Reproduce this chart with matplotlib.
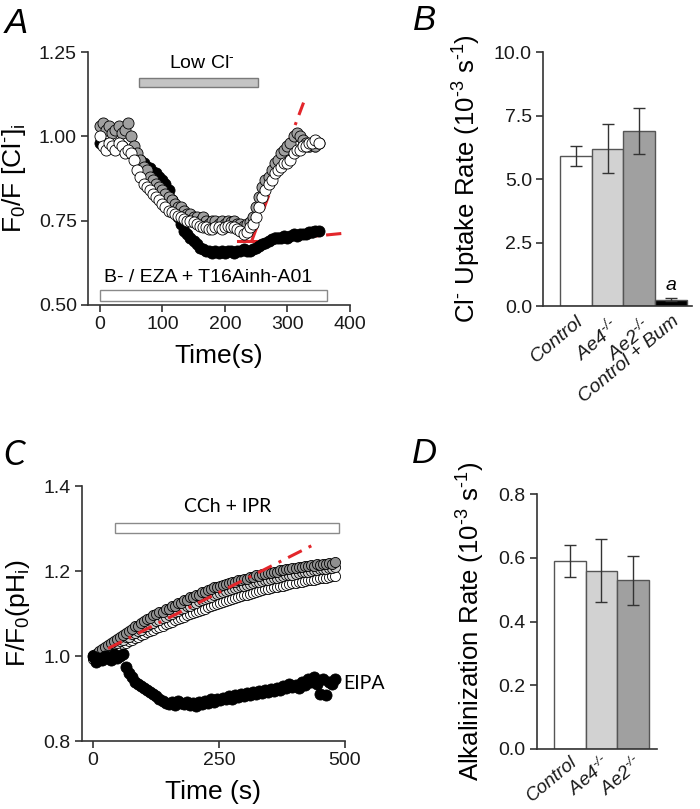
import numpy as np
import matplotlib
matplotlib.use("Agg")
import matplotlib.pyplot as plt
from matplotlib.patches import Rectangle

plt.rcParams["font.family"] = ["Liberation Sans", "DejaVu Sans"]
plt.rcParams["mathtext.default"] = "regular"

# ---- panel A: F0/F [Cl-]i traces, one point every 5 s ----
time_a = np.arange(0, 355, 5)
gray_a = [1.03, 1.04, 1.02, 1.03, 1.01, 1.02, 1.03, 1.01, 1.02, 1.04,
          1.00, 0.97, 0.95, 0.93, 0.91, 0.90, 0.88, 0.87, 0.86, 0.85,
          0.84, 0.83, 0.82, 0.81, 0.80, 0.79, 0.79, 0.78, 0.77, 0.77,
          0.76, 0.76, 0.75, 0.76, 0.75, 0.74, 0.75, 0.75, 0.74, 0.75,
          0.74, 0.75, 0.745, 0.75, 0.74, 0.74, 0.735, 0.74, 0.745, 0.76,
          0.79, 0.82, 0.85, 0.87, 0.88, 0.90, 0.92, 0.93, 0.95, 0.96,
          0.97, 0.98, 1.00, 1.01, 1.00, 0.99, 0.98, 0.97, 0.98, 0.97,
          0.98]
white_a = [1.00, 0.97, 0.96, 0.98, 0.97, 0.96, 0.98, 0.97, 0.95, 0.96,
           0.95, 0.93, 0.90, 0.88, 0.86, 0.85, 0.84, 0.83, 0.82, 0.81,
           0.80, 0.79, 0.78, 0.775, 0.77, 0.765, 0.76, 0.755, 0.75, 0.75,
           0.745, 0.74, 0.735, 0.73, 0.73, 0.725, 0.725, 0.73, 0.73, 0.725,
           0.73, 0.735, 0.73, 0.73, 0.725, 0.72, 0.71, 0.715, 0.73, 0.74,
           0.76, 0.79, 0.82, 0.84, 0.86, 0.87, 0.89, 0.90, 0.91, 0.92,
           0.92, 0.93, 0.95, 0.96, 0.96, 0.97, 0.97, 0.98, 0.98, 0.99,
           0.98]
black_a = [0.98, 0.98, 0.97, 0.975, 0.97, 0.97, 0.965, 0.97, 0.96, 0.955,
           0.95, 0.945, 0.935, 0.93, 0.92, 0.91, 0.905, 0.895, 0.89, 0.88,
           0.87, 0.86, 0.84, 0.81, 0.78, 0.76, 0.74, 0.72, 0.71, 0.70,
           0.69, 0.68, 0.67, 0.665, 0.66, 0.66, 0.655, 0.66, 0.655, 0.66,
           0.655, 0.66, 0.66, 0.655, 0.66, 0.66, 0.665, 0.66, 0.66, 0.665,
           0.67, 0.675, 0.68, 0.685, 0.69, 0.695, 0.70, 0.70, 0.70, 0.705,
           0.70, 0.705, 0.71, 0.705, 0.71, 0.71, 0.71, 0.715, 0.715, 0.72,
           0.72]
err_a = 0.015
fit_fast_t = [243, 326]
fit_fast_y = [0.69, 1.10]
fit_base_t = [221, 253]
fit_base_y = [0.69, 0.69]
fit_slow_t = [255, 398]
fit_slow_y = [0.688, 0.714]

# ---- panel B: Cl- uptake rate ----
groups_b = ["Control", "Ae4$^{\u2010/\u2010}$", "Ae2$^{\u2010/\u2010}$", "Control + Bum"]
rate_b = [5.9, 6.2, 6.9, 0.25]
sem_b = [0.4, 0.97, 0.9, 0.05]

# ---- panel C: F/F0 (pHi), one point every 6 s ----
time_c = np.arange(0, 486, 6)
gray_c = [1.002, 1.006, 1.012, 1.016, 1.022, 1.025, 1.032, 1.035, 1.041, 1.044,
          1.050, 1.054, 1.060, 1.064, 1.070, 1.072, 1.079, 1.082, 1.088, 1.090,
          1.096, 1.098, 1.103, 1.105, 1.110, 1.112, 1.117, 1.119, 1.124, 1.126,
          1.131, 1.132, 1.138, 1.139, 1.144, 1.145, 1.150, 1.151, 1.156, 1.157,
          1.162, 1.162, 1.166, 1.167, 1.170, 1.171, 1.174, 1.175, 1.178, 1.179,
          1.182, 1.182, 1.186, 1.186, 1.190, 1.189, 1.193, 1.193, 1.196, 1.196,
          1.199, 1.199, 1.202, 1.202, 1.205, 1.204, 1.207, 1.207, 1.210, 1.209,
          1.212, 1.211, 1.214, 1.213, 1.216, 1.215, 1.218, 1.217, 1.220, 1.218,
          1.221]
light_c = [0.998, 1.004, 1.006, 1.012, 1.014, 1.020, 1.022, 1.028, 1.030, 1.035,
           1.038, 1.044, 1.046, 1.052, 1.055, 1.060, 1.062, 1.068, 1.070, 1.075,
           1.078, 1.083, 1.085, 1.090, 1.092, 1.097, 1.099, 1.104, 1.106, 1.110,
           1.113, 1.117, 1.119, 1.123, 1.125, 1.129, 1.131, 1.135, 1.137, 1.140,
           1.143, 1.146, 1.148, 1.151, 1.153, 1.156, 1.157, 1.160, 1.162, 1.164,
           1.166, 1.168, 1.170, 1.172, 1.174, 1.175, 1.177, 1.179, 1.180, 1.182,
           1.184, 1.185, 1.187, 1.188, 1.190, 1.191, 1.192, 1.194, 1.195, 1.197,
           1.197, 1.199, 1.200, 1.202, 1.202, 1.204, 1.205, 1.206, 1.207, 1.208,
           1.209]
white_c = [0.994, 0.997, 1.001, 1.004, 1.008, 1.011, 1.014, 1.017, 1.021, 1.024,
           1.028, 1.031, 1.035, 1.038, 1.042, 1.045, 1.049, 1.052, 1.056, 1.059,
           1.062, 1.066, 1.068, 1.072, 1.075, 1.078, 1.081, 1.084, 1.087, 1.090,
           1.093, 1.096, 1.098, 1.102, 1.104, 1.107, 1.109, 1.112, 1.115, 1.117,
           1.120, 1.122, 1.125, 1.127, 1.130, 1.132, 1.134, 1.137, 1.139, 1.141,
           1.143, 1.145, 1.147, 1.149, 1.151, 1.153, 1.155, 1.157, 1.158, 1.160,
           1.162, 1.163, 1.165, 1.166, 1.168, 1.169, 1.171, 1.172, 1.174, 1.175,
           1.176, 1.178, 1.179, 1.180, 1.182, 1.183, 1.184, 1.185, 1.187, 1.188,
           1.189]
eipa_c = [1.000, 0.985, 0.995, 0.990, 1.000, 0.995, 0.990, 1.005, 0.995, 1.000,
          1.005, 0.975, 0.960, 0.950, 0.940, 0.935, 0.930, 0.925, 0.920, 0.915,
          0.910, 0.905, 0.900, 0.895, 0.890, 0.888, 0.892, 0.886, 0.895, 0.890,
          0.888, 0.892, 0.885, 0.890, 0.882, 0.893, 0.888, 0.895, 0.890, 0.898,
          0.893, 0.900, 0.896, 0.902, 0.898, 0.905, 0.900, 0.908, 0.903, 0.910,
          0.906, 0.912, 0.908, 0.915, 0.910, 0.918, 0.912, 0.920, 0.915, 0.922,
          0.918, 0.925, 0.920, 0.930, 0.924, 0.935, 0.928, 0.932, 0.925, 0.938,
          0.932, 0.945, 0.940, 0.950, 0.935, 0.910, 0.945, 0.908, 0.940, 0.935,
          0.945]
fit_c_t = [30, 434]
fit_c_y = [1.018, 1.26]

# ---- panel D: alkalinization rate ----
groups_d = ["Control", "Ae4$^{\u2010/\u2010}$", "Ae2$^{\u2010/\u2010}$"]
rate_d = [0.59, 0.56, 0.53]
sem_d = [0.05, 0.10, 0.077]

bar_colors = ["white", "#d2d2d2", "#a0a0a0", "black"]
red = "#e3262b"
fit_dash = (0, (5, 2.5, 1, 2.5))
dark = "#333333"
sup = "$^{\u2010}$"


def style(ax):
    for s in ["top", "right"]:
        ax.spines[s].set_visible(False)
    for s in ["left", "bottom"]:
        ax.spines[s].set_color(dark)
        ax.spines[s].set_linewidth(1.2)
    ax.tick_params(direction="out", length=5, width=1.2, color=dark,
                   labelsize=14, pad=3, labelcolor="#1a1a1a")


def trace(ax, t, y, face, err=None, ms=8):
    if err is None:
        ax.plot(t, y, "o", ms=ms, mfc=face, mec="black", mew=0.6)
    else:
        ax.errorbar(t, y, yerr=err, fmt="o", ms=ms, mfc=face, mec="black",
                    mew=0.6, ecolor="#8a8a8a", elinewidth=0.6, capsize=1.5,
                    capthick=0.6)


fig = plt.figure(figsize=(7, 8.09), dpi=100)

# panel A
axA = fig.add_axes([0.1257, 0.623, 0.374, 0.3127])
style(axA)
trace(axA, time_a, black_a, "black", err_a)
trace(axA, time_a, gray_a, "#a0a0a0", err_a)
trace(axA, time_a, white_a, "white", err_a)
axA.plot(fit_base_t, fit_base_y, color=red, lw=2.2)
axA.plot(fit_fast_t, fit_fast_y, color=red, lw=2.2, ls=fit_dash)
axA.plot(fit_slow_t, fit_slow_y, color=red, lw=2.2, ls=fit_dash)
axA.add_patch(Rectangle((62, 1.146), 191, 0.027, fc="#c4c4c4", ec="#7a7a7a", lw=1))
axA.text(163, 1.215, "Low Cl" + sup, ha="center", va="center", fontsize=14)
axA.add_patch(Rectangle((0, 0.512), 363, 0.032, fc="white", ec="#8a8a8a", lw=1))
axA.text(173, 0.582, "B- / EZA + T16Ainh-A01", ha="center", va="center", fontsize=14)
axA.set_xlim(-19, 400)
axA.set_ylim(0.5, 1.25)
axA.set_xticks([0, 100, 200, 300, 400])
axA.set_yticks([0.5, 0.75, 1.0, 1.25])
axA.set_yticklabels(["0.50", "0.75", "1.00", "1.25"])
axA.set_xlabel("Time(s)", fontsize=19, labelpad=8)
axA.set_ylabel("F$_{0}$/F [Cl" + sup + "]$_{i}$", fontsize=19, labelpad=8)

# panel B
axB = fig.add_axes([0.7757, 0.6217, 0.213, 0.314])
style(axB)
axB.bar(range(4), rate_b, width=1.0, color=bar_colors, edgecolor="#555555",
        linewidth=1, yerr=sem_b, capsize=4,
        error_kw=dict(ecolor=dark, elinewidth=1, capthick=1))
axB.text(3, 0.8, "a", ha="center", va="center", fontsize=14, style="italic")
axB.set_xlim(-1.03, 3.66)
axB.set_ylim(0, 10)
axB.set_yticks([0, 2.5, 5.0, 7.5, 10.0])
axB.set_yticklabels(["0.0", "2.5", "5.0", "7.5", "10.0"])
axB.set_xticks(range(4))
axB.set_xticklabels(groups_b, rotation=40, ha="right", rotation_mode="anchor",
                    style="italic", fontsize=14)
axB.tick_params(axis="x", length=0, pad=5)
axB.set_ylabel("Cl" + sup + " Uptake Rate (10$^{\u20103}$ s$^{\u20101}$)",
               fontsize=18.5, labelpad=8)

# panel C
axC = fig.add_axes([0.117, 0.084, 0.3757, 0.315])
style(axC)
trace(axC, time_c, white_c, "white", ms=7.3)
trace(axC, time_c, light_c, "#cfcfcf", ms=7.3)
trace(axC, time_c, gray_c, "#8f8f8f", ms=7.3)
axC.plot(fit_c_t, fit_c_y, color=red, lw=2.2, ls=fit_dash)
trace(axC, time_c, eipa_c, "black", ms=8)
axC.add_patch(Rectangle((44, 1.289), 444, 0.024, fc="white", ec="#8a8a8a", lw=1))
axC.text(268, 1.353, "CCh + IPR", ha="center", va="center", fontsize=14, family="Lato")
axC.text(497, 0.936, "EIPA", ha="left", va="center", fontsize=14, family="Lato")
axC.set_xlim(-22, 500)
axC.set_ylim(0.8, 1.4)
axC.set_xticks([0, 250, 500])
axC.set_yticks([0.8, 1.0, 1.2, 1.4])
axC.set_xlabel("Time (s)", fontsize=19, labelpad=8)
axC.set_ylabel("F/F$_{0}$(pH$_{i}$)", fontsize=19, labelpad=8)

# panel D
axD = fig.add_axes([0.767, 0.0742, 0.1714, 0.315])
style(axD)
axD.bar(range(3), rate_d, width=1.0, color=bar_colors[:3], edgecolor="#555555",
        linewidth=1, yerr=sem_d, capsize=4,
        error_kw=dict(ecolor=dark, elinewidth=1, capthick=1))
axD.set_xlim(-1.04, 2.75)
axD.set_ylim(0, 0.8)
axD.set_yticks([0, 0.2, 0.4, 0.6, 0.8])
axD.set_yticklabels(["0.0", "0.2", "0.4", "0.6", "0.8"])
axD.set_xticks(range(3))
axD.set_xticklabels(groups_d, rotation=40, ha="right", rotation_mode="anchor",
                    style="italic", fontsize=13.5)
axD.tick_params(axis="x", length=0, pad=3)
axD.set_ylabel("Alkalinization Rate (10$^{\u20103}$ s$^{\u20101}$)",
               fontsize=18.5, labelpad=8)

# panel letters
fig.text(5 / 700, 0.959, "A", fontsize=25, style="italic")
fig.text(413 / 700, 0.963, "B", fontsize=25, style="italic")
fig.text(3 / 700, 0.425, "C", fontsize=25, style="italic", family="Lato")
fig.text(412 / 700, 0.428, "D", fontsize=25, style="italic")

fig.savefig("out.png", dpi=100, facecolor="white")
